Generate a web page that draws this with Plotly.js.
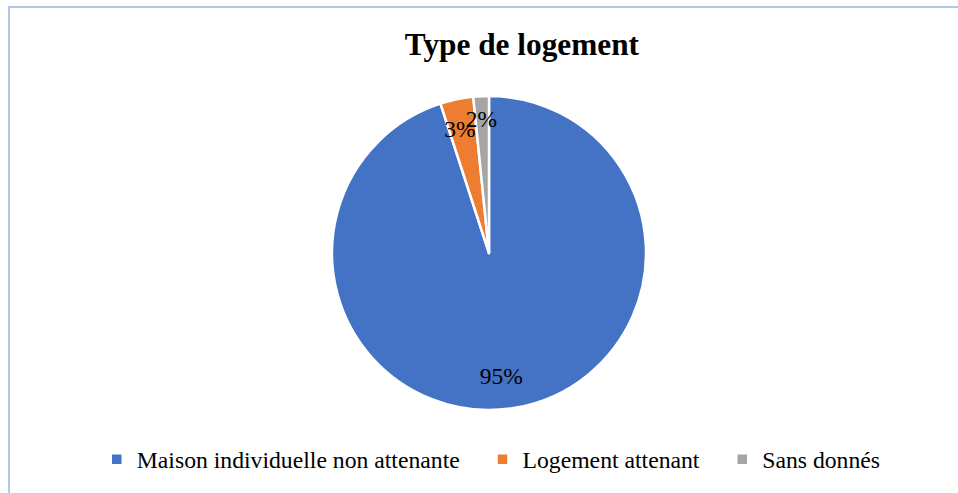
<!DOCTYPE html>
<html>
<head>
<meta charset="utf-8">
<script src="https://cdn.plot.ly/plotly-3.0.1.min.js"></script>
<style>
  body { margin: 0; background: #fff; }
  #chart {
    position: absolute; left: 8px; top: 6px;
    width: 948px; height: 485px;
    border-left: 2px solid #B4C7E7; border-top: 2px solid #B4C7E7;
  }
</style>
</head>
<body>
<div id="chart"></div>
<script>
  // Répartition par type de logement (%)
  const labels = ['Maison individuelle non attenante', 'Logement attenant', 'Sans donnés'];
  const values = [95, 3.4, 1.6];
  const colors = ['#4472C4', '#ED7D31', '#A5A5A5'];

  const serif = 'Liberation Serif, Times New Roman, serif';
  const pad = '\u00a0\u00a0\u00a0';
  const blank = '\u00a0<br>';

  let trace = {
    type: 'pie',
    labels: labels.map(l => l + pad),
    values: values,
    sort: false,
    direction: 'clockwise',
    rotation: 0,
    marker: { colors: colors, line: { color: '#fff', width: 2.5 } },
    // lignes vides pour placer les libellés comme dans l'original
    texttemplate: [blank + blank + blank + '%{percent:.0%}', blank + '%{percent:.0%}', blank + '%{percent:.0%}'],
    textposition: 'inside',
    insidetextorientation: 'horizontal',
    textfont: { family: serif, size: 23.5, color: '#000' },
    hoverinfo: 'label+percent'
  };

  let layout = {
    width: 948,
    height: 485,
    margin: { l: 10, r: 0, t: 88, b: 83 },
    paper_bgcolor: '#fff',
    font: { family: serif, color: '#000' },
    title: {
      text: '<b>Type de logement</b>',
      font: { family: serif, size: 31.3, color: '#000' },
      xref: 'container', x: 0.54,
      yref: 'container', y: 0.926, yanchor: 'middle'
    },
    uniformtext: { minsize: 23.5, mode: 'show' },
    showlegend: true,
    legend: {
      orientation: 'h',
      x: 0.512, xanchor: 'center',
      y: -0.157, yanchor: 'middle',
      font: { family: serif, size: 23.7, color: '#000' },
      traceorder: 'normal'
    }
  };

  Plotly.newPlot('chart', [trace], layout, { displayModeBar: false });
</script>
</body>
</html>
